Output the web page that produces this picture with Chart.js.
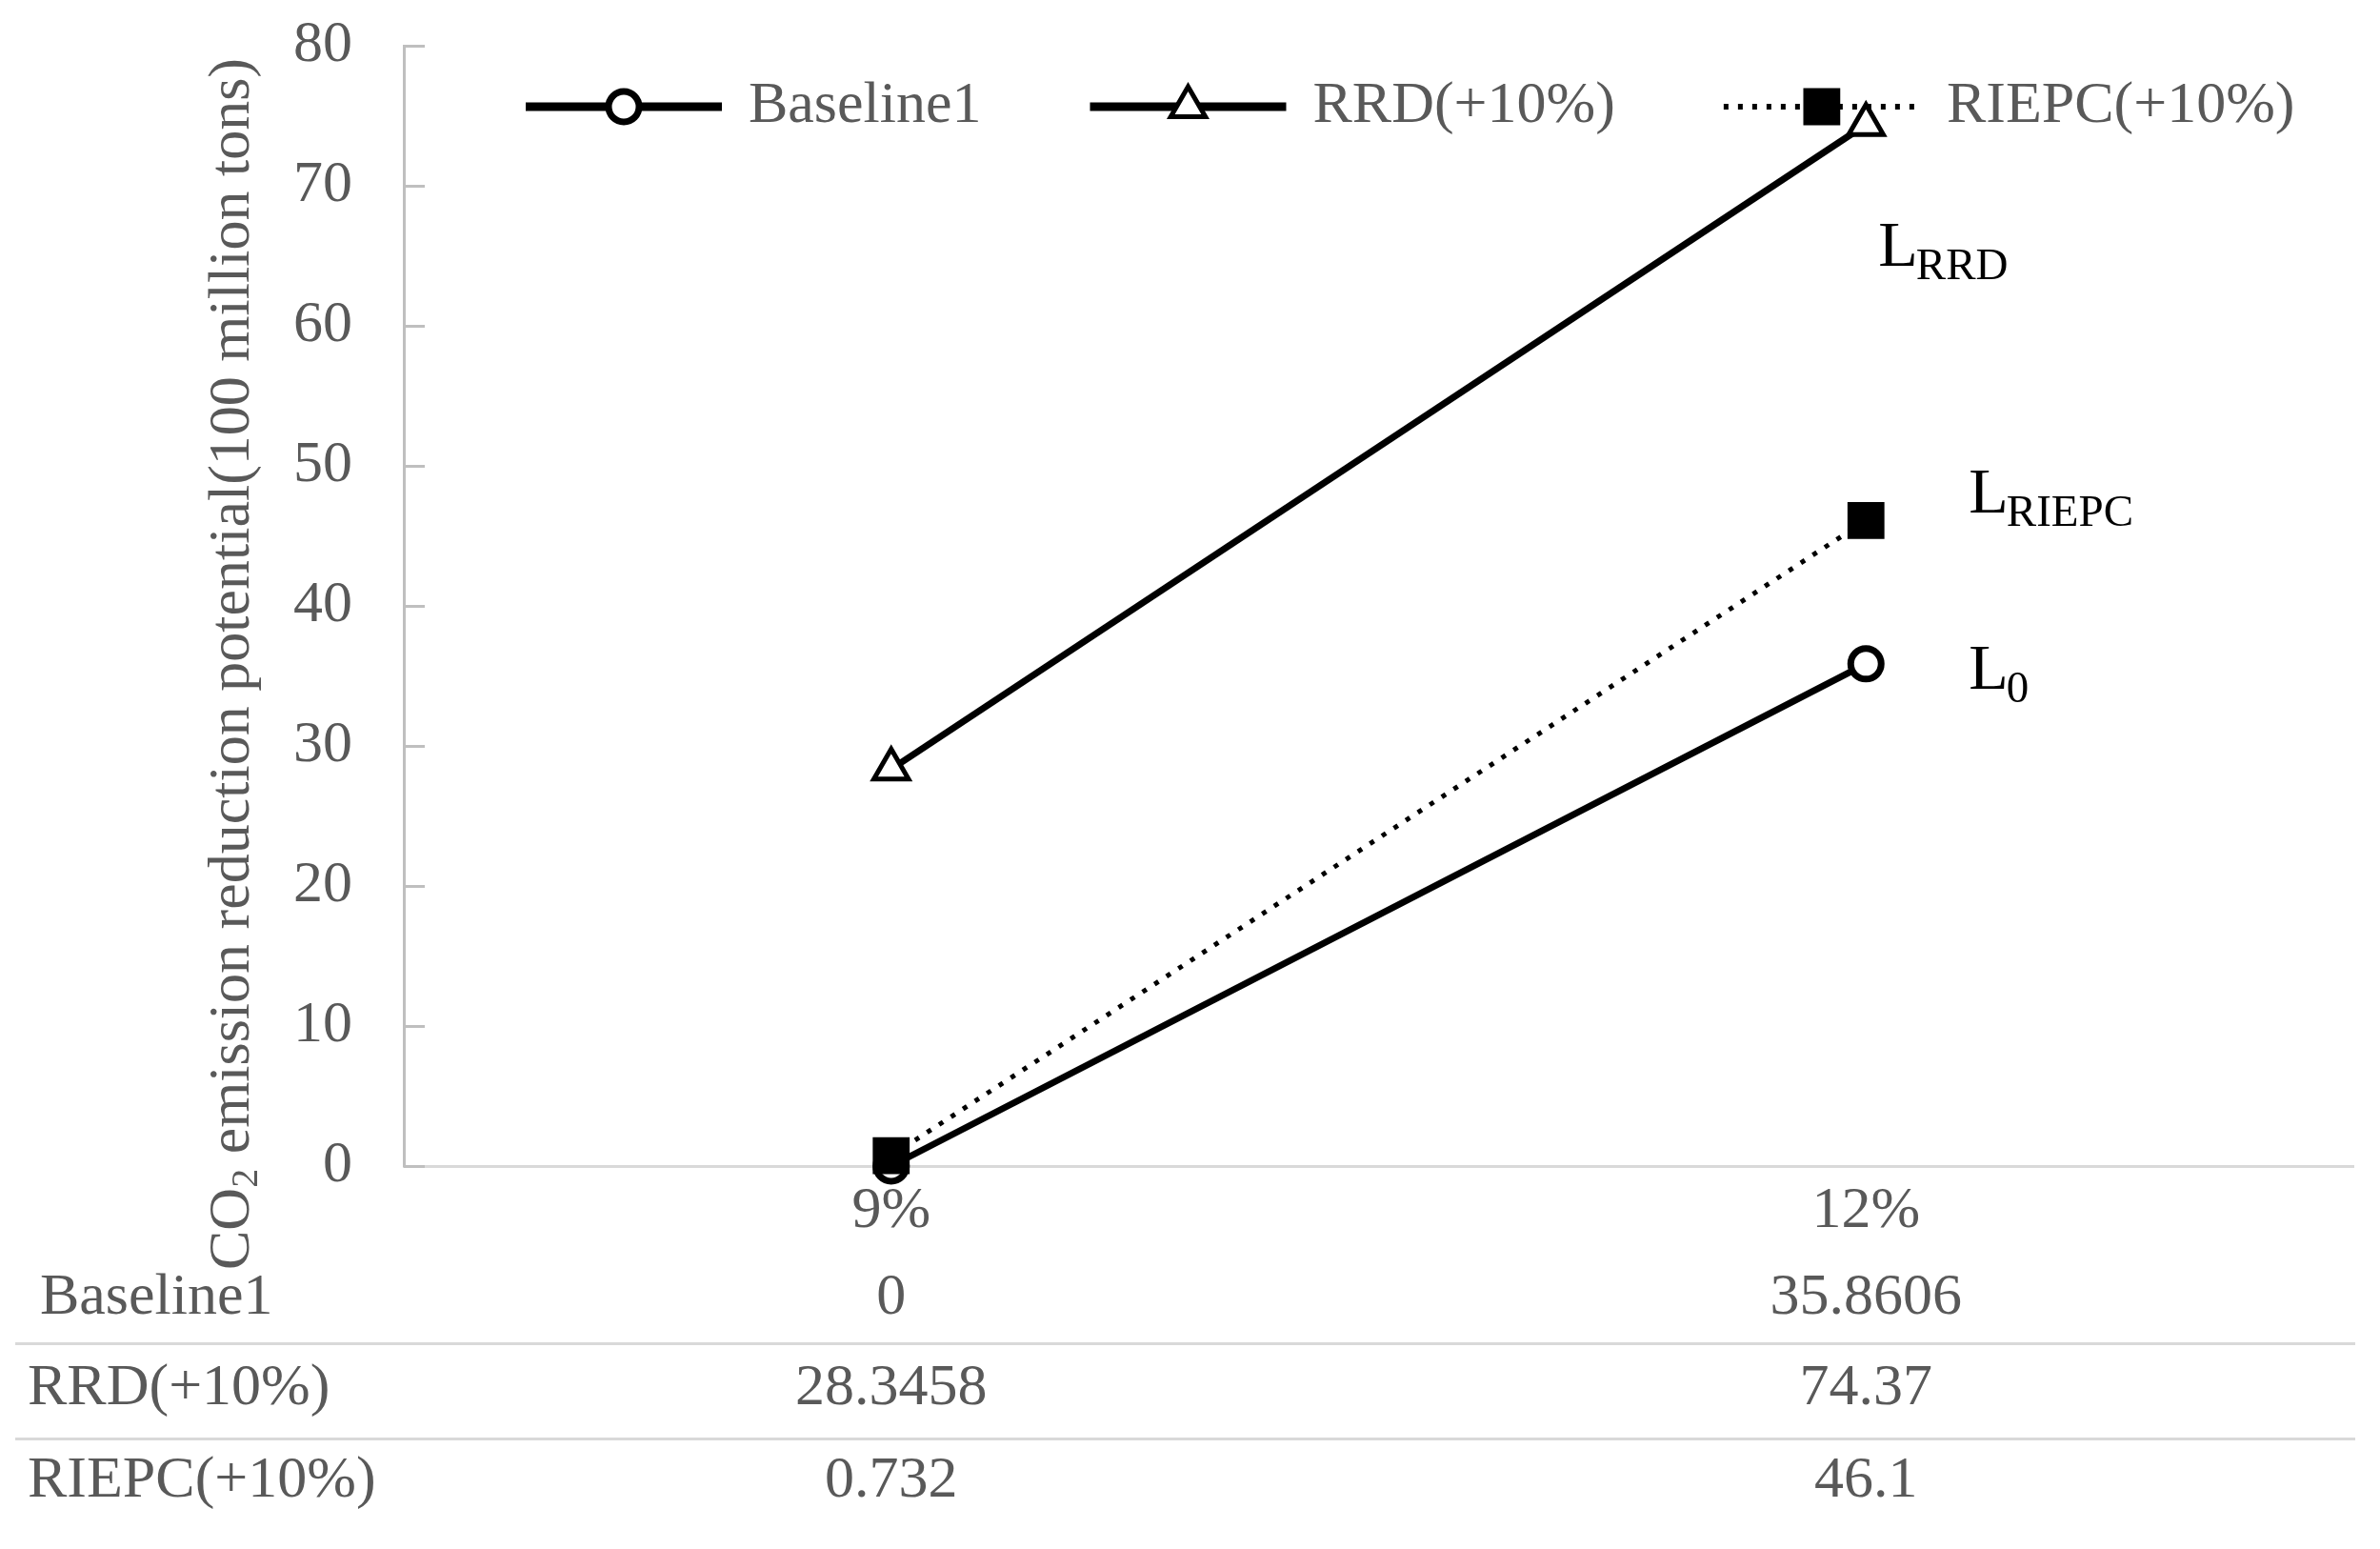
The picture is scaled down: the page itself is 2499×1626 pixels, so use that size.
<!DOCTYPE html>
<html>
<head>
<meta charset="utf-8">
<script src="https://cdn.jsdelivr.net/npm/chart.js"></script>
<style>
  html, body { margin: 0; padding: 0; background: #fff; }
  canvas { display: block; }
</style>
</head>
<body>
<canvas id="chart" width="2499" height="1626"></canvas>
<script>
const categories = ['9%', '12%'];
const seriesNames = ['Baseline1', 'RRD(+10%)', 'RIEPC(+10%)'];
const baseline1 = [0, 35.8606];
const rrd = [28.3458, 74.37];
const riepc = [0.732, 46.1];
const yTicks = [0, 10, 20, 30, 40, 50, 60, 70, 80];

// Line name labels next to the 12% points: main letter, subscript, value where baseline sits, x shift
const noteText = [['L', 'RRD'], ['L', 'RIEPC'], ['L', '0']];
const noteAt = [[64.3, 13], [46.7, 108], [34.1, 108]];

const yTitleParts = ['CO', '2', ' emission reduction potential(100 million tons)'];

const GRAY = '#595959';
const FONT = '"Liberation Serif", "Times New Roman", serif';

function marker(ctx, ds, x, y) {
  ctx.save();
  ctx.setLineDash([]);
  ctx.fillStyle = ds.pointBackgroundColor;
  ctx.strokeStyle = ds.pointBorderColor;
  ctx.lineWidth = ds.pointBorderWidth;
  Chart.helpers.drawPoint(ctx, {
    pointStyle: ds.pointStyle,
    radius: ds.pointRadius,
    borderWidth: ds.pointBorderWidth,
    rotation: 0
  }, x, y);
  ctx.restore();
}

const extras = {
  id: 'extras',
  afterDraw(chart) {
    const ctx = chart.ctx;
    const area = chart.chartArea;
    const xs = chart.scales.x, ys = chart.scales.y;
    ctx.save();

    // small ticks pointing into the plot
    ctx.strokeStyle = '#bfbfbf';
    ctx.lineWidth = 3;
    ys.ticks.forEach(t => {
      const y = Math.round(ys.getPixelForValue(t.value)) + 0.5;
      ctx.beginPath();
      ctx.moveTo(area.left, y);
      ctx.lineTo(area.left + 22, y);
      ctx.stroke();
    });

    // y title, rotated, with subscript 2
    ctx.save();
    ctx.translate(261, 1333);
    ctx.rotate(-Math.PI / 2);
    ctx.fillStyle = GRAY;
    ctx.textAlign = 'left';
    ctx.textBaseline = 'alphabetic';
    let tx = 0;
    ctx.font = '62px ' + FONT;
    ctx.fillText(yTitleParts[0], tx, 0);
    tx += ctx.measureText(yTitleParts[0]).width;
    ctx.font = '40px ' + FONT;
    ctx.fillText(yTitleParts[1], tx, 9);
    tx += ctx.measureText(yTitleParts[1]).width;
    ctx.font = '62px ' + FONT;
    ctx.fillText(yTitleParts[2], tx, 0);
    ctx.restore();

    // legend: line + marker swatch, then name
    const ds = chart.data.datasets;
    let lx = 552;
    const ly = 112;
    ctx.font = '62px ' + FONT;
    ctx.textBaseline = 'middle';
    ctx.textAlign = 'left';
    ds.forEach(d => {
      ctx.save();
      ctx.strokeStyle = '#000';
      ctx.lineWidth = d.borderDash ? 6 : 9;
      ctx.setLineDash(d.borderDash || []);
      ctx.beginPath();
      ctx.moveTo(lx, ly);
      ctx.lineTo(lx + 206, ly);
      ctx.stroke();
      ctx.restore();
      marker(ctx, d, lx + 103, ly);
      ctx.fillStyle = GRAY;
      ctx.fillText(d.label, lx + 234, ly);
      lx += 234 + ctx.measureText(d.label).width + 114;
    });

    // line names at the right end
    ctx.fillStyle = '#000';
    ctx.textBaseline = 'alphabetic';
    const xEnd = xs.getPixelForValue(categories.length - 1);
    noteText.forEach((n, i) => {
      const bx = xEnd + noteAt[i][1];
      const by = ys.getPixelForValue(noteAt[i][0]);
      ctx.font = '68px ' + FONT;
      ctx.fillText(n[0], bx, by);
      const w = ctx.measureText(n[0]).width;
      ctx.font = '47px ' + FONT;
      ctx.fillText(n[1], bx + w - 2, by + 14);
    });

    // data table under the axis
    const rowOff = [139, 234, 331];
    const sepOff = [186, 286];
    ctx.strokeStyle = '#d9d9d9';
    ctx.lineWidth = 3;
    sepOff.forEach(o => {
      ctx.beginPath();
      ctx.moveTo(16, area.bottom + o + 0.5);
      ctx.lineTo(2473, area.bottom + o + 0.5);
      ctx.stroke();
    });
    ctx.font = '62px ' + FONT;
    ctx.fillStyle = GRAY;
    ctx.textBaseline = 'middle';
    ds.forEach((d, r) => {
      const y = area.bottom + rowOff[r];
      ctx.textAlign = 'left';
      ctx.fillText(d.label, r === 0 ? 42 : 29, y);
      ctx.textAlign = 'center';
      d.data.forEach((v, c) => {
        ctx.fillText(String(v), xs.getPixelForValue(c), y);
      });
    });

    ctx.restore();
  }
};

new Chart(document.getElementById('chart'), {
  type: 'line',
  data: {
    labels: categories,
    datasets: [
      {
        label: seriesNames[0], data: baseline1,
        borderColor: '#000', borderWidth: 7,
        pointStyle: 'circle', pointRadius: 16, pointBorderWidth: 7,
        pointBackgroundColor: '#fff', pointBorderColor: '#000',
        clip: false, order: 3
      },
      {
        label: seriesNames[1], data: rrd,
        borderColor: '#000', borderWidth: 7,
        pointStyle: 'triangle', pointRadius: 21, pointBorderWidth: 5,
        pointBackgroundColor: '#fff', pointBorderColor: '#000',
        clip: false, order: 2
      },
      {
        label: seriesNames[2], data: riepc,
        borderColor: '#000', borderWidth: 5, borderDash: [5, 10],
        pointStyle: 'rect', pointRadius: 26, pointBorderWidth: 2,
        pointBackgroundColor: '#000', pointBorderColor: '#000',
        clip: false, order: 1
      }
    ]
  },
  options: {
    responsive: false,
    animation: false,
    devicePixelRatio: 1,
    layout: { padding: { left: 0, right: 28, top: 48, bottom: 0 }, autoPadding: false },
    plugins: { legend: { display: false }, tooltip: { enabled: false } },
    scales: {
      x: {
        offset: true,
        grid: { display: false, drawTicks: false },
        border: { display: true, color: '#d9d9d9', width: 3 },
        ticks: { color: GRAY, font: { size: 62, family: FONT }, padding: 11 },
        afterFit(s) { s.height = 402; }
      },
      y: {
        min: 0, max: 80,
        // invisible tick marks give the gap between labels and axis
        grid: { display: true, drawOnChartArea: false, drawTicks: true, tickLength: 54, tickColor: 'rgba(0,0,0,0)' },
        border: { display: true, color: '#bfbfbf', width: 3 },
        ticks: { color: GRAY, font: { size: 62, family: FONT }, padding: 0 },
        afterBuildTicks(s) { s.ticks = yTicks.map(v => ({ value: v })); },
        afterFit(s) { s.width = 424; }
      }
    }
  },
  plugins: [extras]
});
</script>
</body>
</html>
